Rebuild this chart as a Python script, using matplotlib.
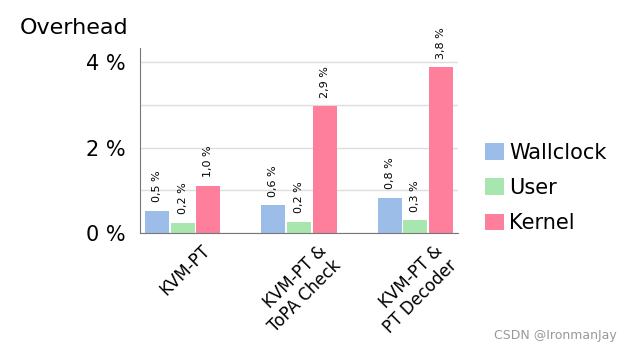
import matplotlib.pyplot as plt
import matplotlib.transforms as mtransforms
import numpy as np

categories = ['KVM-PT', 'KVM-PT &\nToPA Check', 'KVM-PT &\nPT Decoder']
series = ['Wallclock', 'User', 'Kernel']
wallclock = [0.52, 0.65, 0.82]
user = [0.24, 0.26, 0.30]
kernel = [1.1, 2.97, 3.88]
labels = [['0,5 %', '0,6 %', '0,8 %'],
          ['0,2 %', '0,2 %', '0,3 %'],
          ['1,0 %', '2,9 %', '3,8 %']]
colors = ['#9bbde8', '#a8e6b0', '#fe7f9c']

fig = plt.figure(figsize=(6.2, 3.55), dpi=100)
ax = fig.add_axes([140/620, 1-233/355, 318/620, 185/355])

x = np.arange(len(categories))
w = 0.207
step = 0.22
for i, (vals, c) in enumerate(zip([wallclock, user, kernel], colors)):
    pos = x + (i - 1) * step
    ax.bar(pos, vals, w, color=c, label=series[i], zorder=2)
    for p, v, t in zip(pos, vals, labels[i]):
        ax.text(p, v + 0.2, t, rotation=90, ha='center', va='bottom', fontsize=8)

ax.set_xlim(-0.37, 2.37)
ax.set_ylim(0, 4.33)
ax.set_yticks([0, 1, 2, 3, 4])
ax.set_yticklabels(['0 %', '', '2 %', '', '4 %'], fontsize=15)
ax.tick_params(axis='y', length=0, pad=10)
ax.tick_params(axis='x', length=0)
ax.grid(axis='y', color='#dddddd', linewidth=1, zorder=0)
ax.set_xticks(x)
ax.set_xticklabels(categories, rotation=45, ha='right', rotation_mode='anchor', fontsize=12)
offset = mtransforms.ScaledTranslation(18/100, -4/100, fig.dpi_scale_trans)
for lbl in ax.get_xticklabels():
    lbl.set_transform(lbl.get_transform() + offset)
for s in ['top', 'right']:
    ax.spines[s].set_visible(False)
ax.spines['left'].set_color('#777777')
ax.spines['bottom'].set_color('#777777')

fig.text(20/620, 1-28/355, 'Overhead', fontsize=16, va='center')
fig.legend(loc='center left', bbox_to_anchor=(485/620, 1-188/355), frameon=False, fontsize=15,
           borderpad=0, borderaxespad=0, handlelength=0.9, handleheight=0.87,
           handletextpad=0.25, labelspacing=0.73)
fig.text(0.995, 0.045, 'CSDN @IronmanJay', fontsize=9, color='#999999', ha='right')

plt.savefig('out.png')
